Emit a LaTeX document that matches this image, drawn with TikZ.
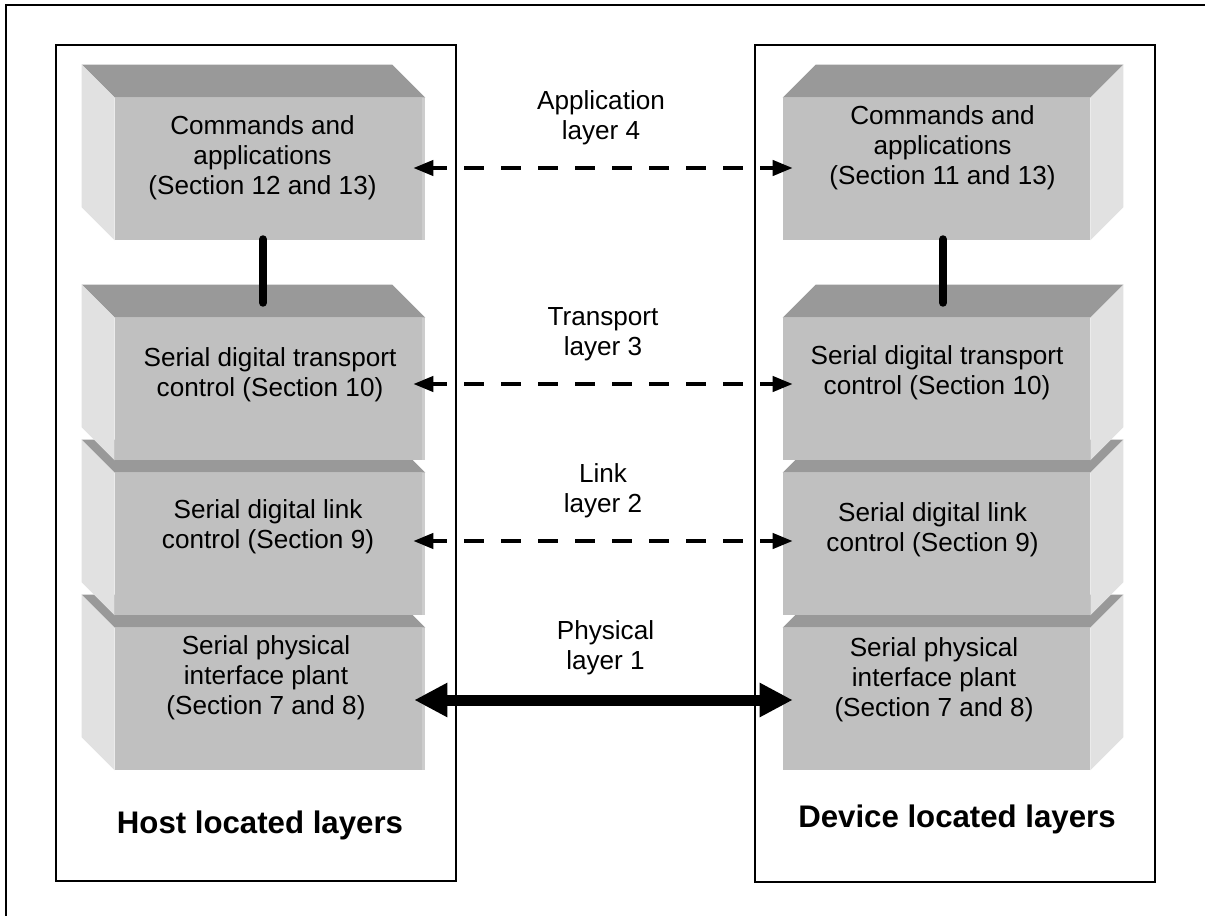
\documentclass[tikz,border=0pt]{standalone}
\usepackage{fontspec}
\setmainfont{Liberation Sans}
\usetikzlibrary{arrows.meta}
\definecolor{topc}{HTML}{999999}
\definecolor{frontc}{HTML}{C0C0C0}
\definecolor{sidec}{HTML}{E1E1E1}
\definecolor{edgec}{HTML}{CDCDCD}
\newcommand\leftfaces[1]{%
  \fill[topc] (#1.north west) -- ++(-33,-33) -- ([shift={(-33,-33)}]#1.north east) -- (#1.north east) -- cycle;
  \fill[sidec] (#1.north west) -- ++(-33,-33) -- ([shift={(-33,-33)}]#1.south west) -- (#1.south west) -- cycle;
  \fill[edgec] ([xshift=-2.25pt]#1.north east) rectangle (#1.south east);
}
\newcommand\rightfaces[1]{%
  \fill[topc] (#1.north west) -- ++(33,-33) -- ([shift={(33,-33)}]#1.north east) -- (#1.north east) -- cycle;
  \fill[sidec] (#1.north east) -- ++(33,-33) -- ([shift={(33,-33)}]#1.south east) -- (#1.south east) -- cycle;
}
\begin{document}
\begin{tikzpicture}[x=0.75pt,y=-0.75pt,
  txt/.style={font=\fontsize{19.6}{22.5}\selectfont, align=center, inner sep=0pt},
  sidelabel/.style={font=\fontsize{23.4}{28}\selectfont\bfseries, inner sep=0pt},
  lface/.style={fill=frontc, inner sep=0pt, minimum width=232.5pt, minimum height=106.5pt},
  rface/.style={fill=frontc, inner sep=0pt, minimum width=230.25pt, minimum height=106.5pt},
  container/.style={draw, line width=1.3pt, inner sep=0pt, minimum width=300pt},
  dasharrow/.style={line width=3pt, dash pattern=on 15pt off 12.75pt, dash phase=3.75pt,
    {Triangle[length=15pt,width=11.25pt]}-{Triangle[length=15pt,width=11.25pt]}},
  physarrow/.style={line width=8.25pt,
    {Triangle[length=24.75pt,width=24pt]}-{Triangle[length=24.75pt,width=24pt]}},
  stack/.style={line width=6pt, line cap=round}
]
\useasboundingbox (0,0) rectangle (1205,916);
% outer frame
\draw[line width=1.5pt] (5.5,930) -- (5.5,5.5) -- (1220,5.5);
% containers
\node[container, minimum height=627pt] (hostbox) at (256,463) {};
\node[container, minimum height=627.75pt] (devbox) at (955,463.5) {};
% host boxes (bottom first)
\node[lface] (hD) at (270,699) {}; \leftfaces{hD}
\node[lface] (hC) at (270,544) {}; \leftfaces{hC}
\node[lface] (hB) at (270,389) {}; \leftfaces{hB}
\node[lface] (hA) at (270,169) {}; \leftfaces{hA}
% device boxes
\node[rface] (dD) at (936.5,699) {}; \rightfaces{dD}
\node[rface] (dC) at (936.5,544) {}; \rightfaces{dC}
\node[rface] (dB) at (936.5,389) {}; \rightfaces{dB}
\node[rface] (dA) at (936.5,169) {}; \rightfaces{dA}
% box texts
\node[txt] (hAt) at (262.5,158) {Commands and\\applications\\(Section 12 and 13)};
\node[txt] (hBt) at (270,375) {Serial digital transport\\control (Section 10)};
\node[txt] (hCt) at (268,527) {Serial digital link\\control (Section 9)};
\node[txt] (hDt) at (266,678) {Serial physical\\interface plant\\(Section 7 and 8)};
\node[txt] (dAt) at (942.5,148) {Commands and\\applications\\(Section 11 and 13)};
\node[txt] (dBt) at (937,373) {Serial digital transport\\control (Section 10)};
\node[txt] (dCt) at (932.5,530) {Serial digital link\\control (Section 9)};
\node[txt] (dDt) at (934,680) {Serial physical\\interface plant\\(Section 7 and 8)};
% layer labels
\node[txt] (l4) at (601,118) {Application\\layer 4};
\node[txt] (l3) at (603,334) {Transport\\layer 3};
\node[txt] (l2) at (603,491) {Link\\layer 2};
\node[txt] (l1) at (605.5,648) {Physical\\layer 1};
% container labels
\node[sidelabel, anchor=base] (hostlbl) at (260,833) {Host located layers};
\node[sidelabel, anchor=base] (devlbl) at (957,827) {Device located layers};
% peer arrows
\draw[dasharrow] ([shift={(-12,-1)}]hA.east) -- ([shift={(10,-1)}]dA.west);
\draw[dasharrow] ([shift={(-12,-5)}]hB.east) -- ([shift={(10,-5)}]dB.west);
\draw[dasharrow] ([shift={(-12,-3)}]hC.east) -- ([shift={(10,-3)}]dC.west);
\draw[physarrow] ([shift={(-11,1)}]hD.east) -- ([shift={(10,1)}]dD.west);
% stack connectors
\draw[stack] ([shift={(-7,-1)}]hA.south) -- ([shift={(-7,-15)}]hB.north);
\draw[stack] ([shift={(6.5,-1)}]dA.south) -- ([shift={(6.5,-15)}]dB.north);
\end{tikzpicture}
\end{document}
